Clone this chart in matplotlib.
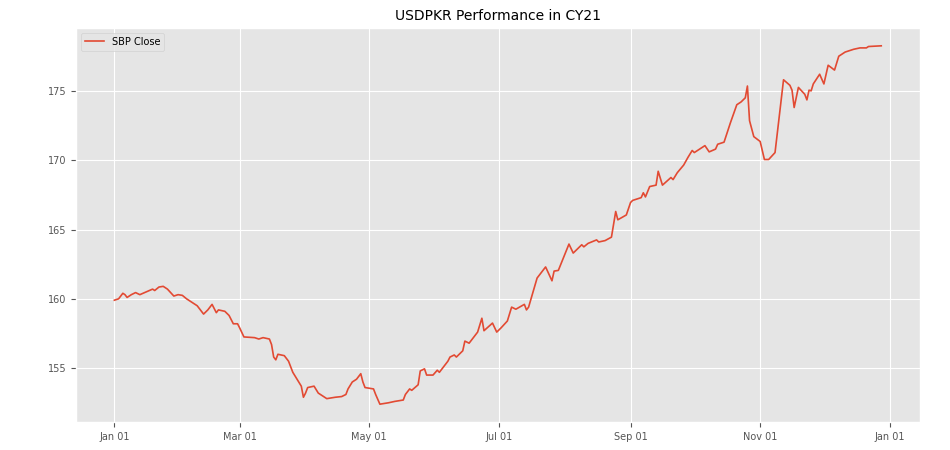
import numpy as np
import pandas as pd
import matplotlib
matplotlib.use("Agg")
import matplotlib.pyplot as plt
import matplotlib.dates as mdates

plt.style.use("ggplot")

# SBP closing rate (day of year offset from Jan 01 2021)
days = [0, 2, 4, 5, 6, 8, 10, 12, 15, 18, 19, 21, 23, 25, 28, 30, 32, 34,
        39, 42, 44, 46, 48, 49, 52, 54, 56, 58, 59, 61, 66, 68, 70, 73, 74,
        75, 76, 77, 80, 82, 84, 86, 88, 89, 90, 91, 94, 96, 100, 104, 107,
        109, 110, 112, 114, 116, 117, 118, 122, 123, 125, 129, 132, 136, 137,
        139, 140, 143, 144, 146, 147, 150, 152, 153, 157, 158, 160, 161, 164,
        165, 167, 171, 173, 174, 178, 180, 182, 185, 187, 189, 193, 194, 195,
        199, 203, 206, 207, 209, 214, 216, 220, 221, 223, 227, 228, 231, 234,
        236, 237, 241, 243, 244, 248, 249, 250, 252, 255, 256, 258, 262, 263,
        265, 268, 270, 272, 273, 278, 280, 283, 284, 287, 290, 293, 295, 297,
        298, 299, 301, 304, 306, 308, 311, 315, 318, 319, 320, 322, 325, 326,
        327, 328, 329, 332, 334, 336, 339, 341, 344, 348, 351, 354, 355, 361]
close = [159.9, 160.0, 160.4, 160.3, 160.1, 160.3, 160.45, 160.3, 160.5,
         160.7, 160.6, 160.85, 160.9, 160.7, 160.2, 160.3, 160.25, 160.0,
         159.5, 158.9, 159.2, 159.6, 159.0, 159.2, 159.1, 158.8, 158.2,
         158.2, 157.9, 157.25, 157.2, 157.1, 157.2, 157.1, 156.7, 155.8,
         155.6, 156.0, 155.9, 155.5, 154.7, 154.2, 153.7, 152.9, 153.2,
         153.6, 153.7, 153.2, 152.8, 152.9, 152.95, 153.1, 153.5, 154.0,
         154.2, 154.6, 154.0, 153.6, 153.5, 153.1, 152.4, 152.5, 152.6,
         152.7, 153.1, 153.5, 153.4, 153.8, 154.8, 154.95, 154.5, 154.5,
         154.85, 154.7, 155.5, 155.8, 155.95, 155.8, 156.25, 156.95, 156.8,
         157.6, 158.6, 157.7, 158.25, 157.6, 157.9, 158.4, 159.4, 159.25,
         159.6, 159.2, 159.4, 161.5, 162.3, 161.3, 162.0, 162.05, 163.95,
         163.3, 163.9, 163.75, 164.0, 164.25, 164.1, 164.2, 164.45, 166.3,
         165.7, 166.05, 166.95, 167.1, 167.3, 167.65, 167.35, 168.1, 168.2,
         169.2, 168.2, 168.75, 168.6, 169.1, 169.65, 170.2, 170.7, 170.55,
         171.05, 170.6, 170.8, 171.15, 171.3, 172.7, 174.0, 174.2, 174.5,
         175.35, 172.85, 171.7, 171.35, 170.05, 170.05, 170.55, 175.8,
         175.4, 175.05, 173.8, 175.25, 174.75, 174.35, 175.05, 175.0, 175.5,
         176.2, 175.5, 176.85, 176.5, 177.5, 177.8, 178.0, 178.1, 178.1,
         178.2, 178.25]

dates = pd.Timestamp("2021-01-01") + pd.to_timedelta(days, unit="D")

fig, ax = plt.subplots(figsize=(9.5, 4.5), dpi=100)
fig.subplots_adjust(left=0.08, right=0.968, bottom=0.062, top=0.938)

ax.plot(dates, close, color="#E24A33", linewidth=1.2, label="SBP Close")

ax.xaxis.set_major_locator(mdates.MonthLocator(bymonth=[1, 3, 5, 7, 9, 11]))
ax.xaxis.set_major_formatter(mdates.DateFormatter("%b %d"))
ax.tick_params(labelsize=7)
ax.set_title("USDPKR Performance in CY21", fontsize=10)
ax.legend(loc="upper left", fontsize=7)

fig.savefig("out.png")
